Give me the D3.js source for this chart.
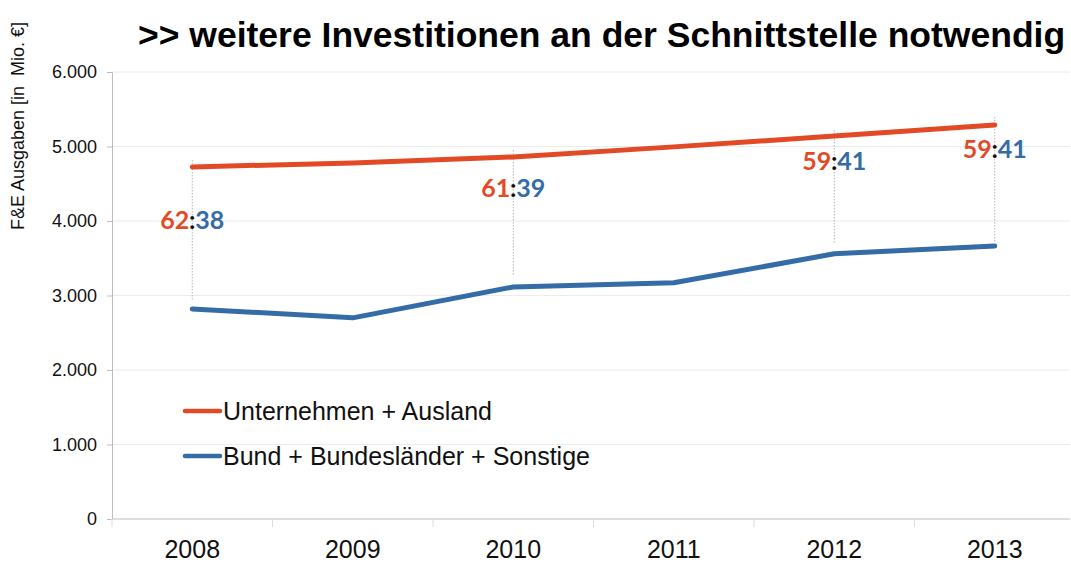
<!DOCTYPE html>
<html><head><meta charset="utf-8">
<script src="https://cdn.jsdelivr.net/npm/d3@7"></script>
<style>body{margin:0;background:#fff}</style>
</head><body>
<svg id="c" width="1071" height="562"></svg>
<script>
const years = ["2008","2009","2010","2011","2012","2013"];
const unternehmen = [4725, 4780, 4860, 4995, 5140, 5290];
const bund = [2820, 2700, 3115, 3170, 3560, 3665];
const yTicks = [0,1000,2000,3000,4000,5000,6000];
const ratioYears = ["2008","2010","2012","2013"];
const ratioA = ["62","61","59","59"];
const ratioB = ["38","39","41","41"];
const ratioPos = [4010, 4440, 4800, 4960];
const seriesNames = ["Unternehmen + Ausland","Bund + Bundesländer + Sonstige"];
const colors = ["#e24a25","#346ca8"];

const svg = d3.select("#c");
const x = d3.scaleBand().domain(years).range([112,1075]);
const y = d3.scaleLinear().domain([0,6000]).range([519,72]);
const fmt = v => v===0 ? "0" : d3.format(",.0f")(v).replace(/,/g,".");
const F = "Liberation Sans, Arial, Helvetica, sans-serif";

// gridlines
svg.append("g").selectAll("line").data(yTicks.slice(1)).join("line")
  .attr("x1",112).attr("x2",1070).attr("y1",d=>y(d)).attr("y2",d=>y(d))
  .attr("stroke","#ececec").attr("stroke-width",1);

// y axis
const ya = svg.append("g").attr("transform","translate(112,0)")
  .call(d3.axisLeft(y).tickValues(yTicks).tickFormat(fmt).tickSize(5).tickPadding(10));
ya.select(".domain").attr("stroke","#bdbdbd");
ya.selectAll(".tick line").attr("stroke","#bdbdbd");
ya.selectAll("text").attr("font-family",F).attr("font-size",18).attr("fill","#111");

// x axis
const xa = svg.append("g").attr("transform","translate(0,519)")
  .call(d3.axisBottom(x).tickSize(0).tickPadding(21));
xa.select(".domain").attr("stroke","#bdbdbd").attr("d","M112,0H1070");
xa.selectAll("text").attr("font-family",F).attr("font-size",25).attr("fill","#111");
svg.append("g").selectAll("line").data(years).join("line")
  .attr("x1",d=>x(d)).attr("x2",d=>x(d)).attr("y1",519).attr("y2",527)
  .attr("stroke","#ddd");

// dotted verticals
const dotTop = [160, 150, 130, 117];
const dotBot = [300, 275, 243, 243];
svg.append("g").selectAll("line").data(ratioYears).join("line")
  .attr("x1",d=>x(d)+x.bandwidth()/2).attr("x2",d=>x(d)+x.bandwidth()/2)
  .attr("y1",(d,i)=>dotTop[i]).attr("y2",(d,i)=>dotBot[i])
  .attr("stroke","#b5b5b5").attr("stroke-width",1).attr("stroke-dasharray","1.5,1.5");

// lines
const line = d3.line().x((d,i)=>x(years[i])+x.bandwidth()/2).y(d=>y(d));
[unternehmen,bund].forEach((s,k)=>{
  svg.append("path").datum(s).attr("d",line).attr("fill","none")
    .attr("stroke",colors[k]).attr("stroke-width",5).attr("stroke-linecap","round").attr("stroke-linejoin","round");
});

// ratio labels
const rl = svg.append("g").attr("font-family","Lato, Open Sans, sans-serif").attr("font-weight","bold").attr("font-size",25);
ratioYears.forEach((yr,i)=>{
  const cx = x(yr)+x.bandwidth()/2, cy = y(ratioPos[i]);
  rl.append("text").attr("x",cx-3).attr("y",cy).attr("text-anchor","end").attr("dy","0.35em").attr("fill",colors[0]).text(ratioA[i]);
  rl.append("text").attr("x",cx).attr("y",cy).attr("text-anchor","middle").attr("dy","0.35em").attr("fill","#111").text(":");
  rl.append("text").attr("x",cx+3).attr("y",cy).attr("text-anchor","start").attr("dy","0.35em").attr("fill",colors[1]).text(ratioB[i]);
});

// legend
const lg = svg.append("g");
seriesNames.forEach((n,i)=>{
  const ly = 411 + i*45;
  lg.append("line").attr("x1",185).attr("x2",220).attr("y1",ly).attr("y2",ly)
    .attr("stroke",colors[i]).attr("stroke-width",4.5).attr("stroke-linecap","round");
  lg.append("text").attr("x",223).attr("y",ly).attr("dy","0.35em")
    .attr("font-family",F).attr("font-size",25).attr("fill","#111").text(n);
});

// title
svg.append("text").attr("x",138).attr("y",47)
  .attr("font-family",F).attr("font-weight","bold").attr("font-size",35.5).attr("fill","#000")
  .text(">> weitere Investitionen an der Schnittstelle notwendig");

// y label
svg.append("text").attr("transform","translate(24,126) rotate(-90)").attr("text-anchor","middle")
  .attr("font-family",F).attr("font-size",18).attr("fill","#111")
  .style("white-space","pre")
  .text("F&E Ausgaben [in  Mio. €]");
</script>
</body></html>
